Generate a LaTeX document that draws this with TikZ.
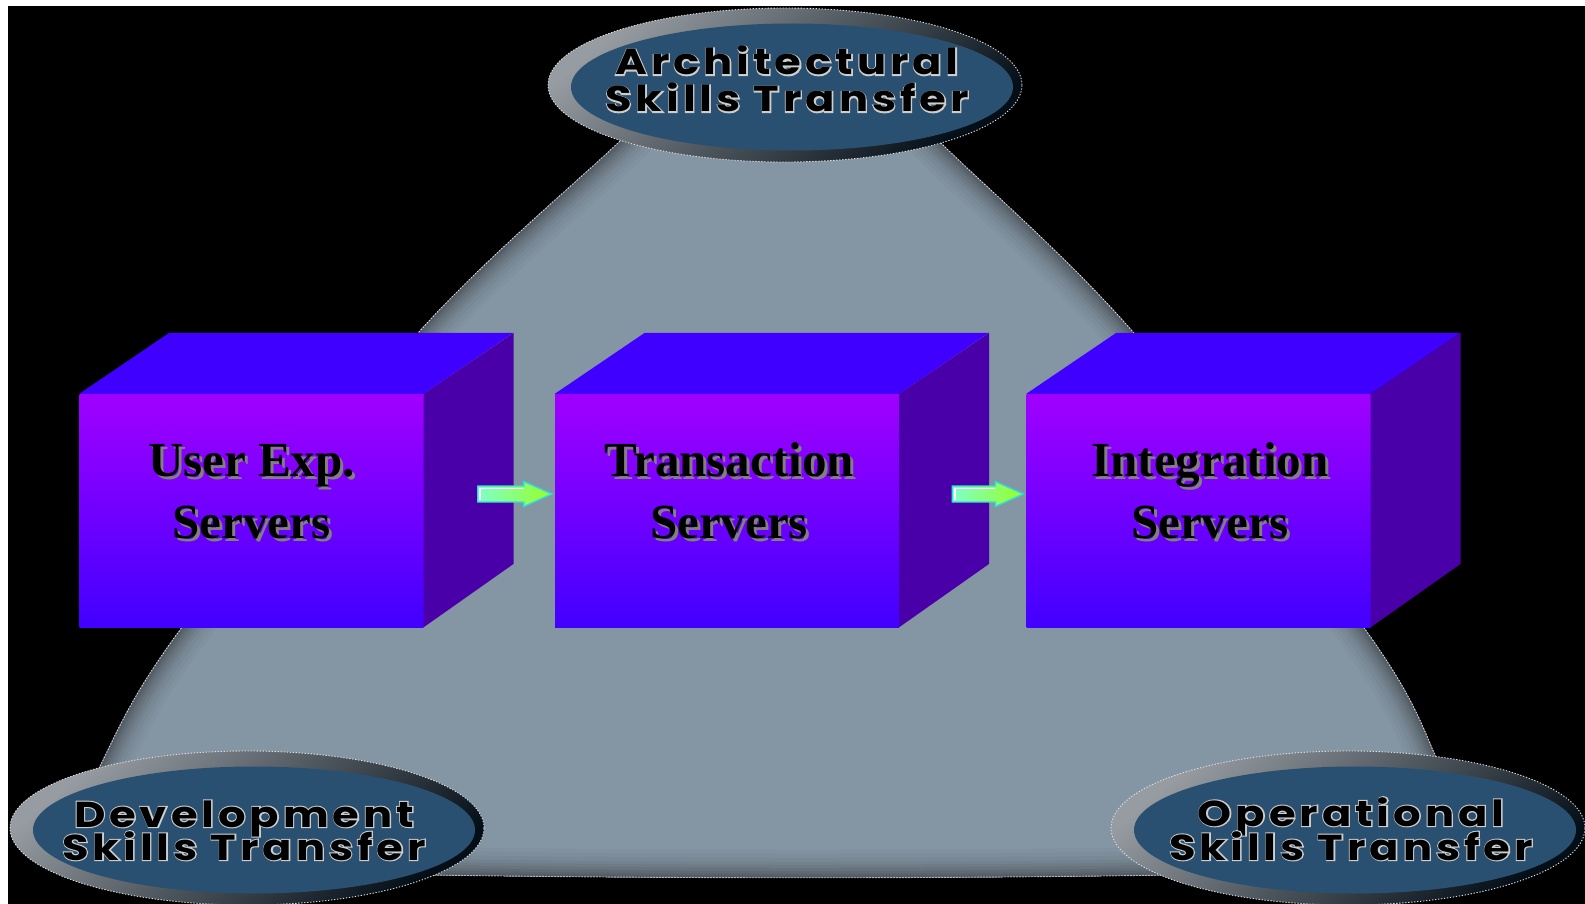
\documentclass[tikz,border=0pt]{standalone}
\usepackage{fontspec}
\usetikzlibrary{calc,shapes.geometric}

\newfontfamily\skillfont{Poppins}[FakeStretch=1.2, LetterSpace=11]
\newfontfamily\skillhalofont{Poppins}[FakeStretch=1.2, LetterSpace=11, BoldFeatures={FakeBold=6}]
\newfontfamily\serverfont{Liberation Serif}

\definecolor{triGrey}{RGB}{132,149,163}
\definecolor{triRim}{RGB}{76,84,91}
\definecolor{ellBlue}{RGB}{41,80,112}
\definecolor{rimLight}{RGB}{150,156,162}
\definecolor{rimDark}{RGB}{4,14,22}
\definecolor{faceTop}{RGB}{160,0,255}
\definecolor{faceBottom}{RGB}{66,0,255}
\definecolor{lidBlue}{RGB}{64,0,255}
\definecolor{sideViolet}{RGB}{74,0,168}
\definecolor{arrowMint}{RGB}{128,255,200}
\definecolor{arrowLime}{RGB}{150,255,40}
\definecolor{arrowEdge}{RGB}{50,220,220}
\definecolor{haloGrey}{RGB}{205,205,205}
\definecolor{shadowGrey}{RGB}{128,128,128}

\tikzset{
  edgedots/.style={draw=white!75!gray, line width=0.9, dash pattern=on 1.3 off 1.7},
  skillrim/.style={ellipse, inner sep=0, minimum width=474, minimum height=154,
    top color=rimLight, bottom color=rimDark, shading angle=40, edgedots},
  skillcore/.style={ellipse, inner sep=0, minimum width=442, minimum height=127, fill=ellBlue},
  skilltext/.style={font=\skillfont\bfseries\fontsize{36}{40}\selectfont, inner sep=0, anchor=base},
  skillhalo/.style={font=\skillhalofont\bfseries\fontsize{36}{40}\selectfont, inner sep=0, anchor=base, text=haloGrey},
  frontface/.style={rectangle, inner sep=0, minimum width=344, minimum height=233,
    top color=faceTop, bottom color=faceBottom},
  lid/.style={fill=lidBlue},
  sideface/.style={fill=sideViolet},
  servertext/.style={font=\serverfont\bfseries\fontsize{49}{58}\selectfont, inner sep=0, anchor=base},
  arrowbody/.style={left color=arrowMint, right color=arrowLime, draw=arrowEdge, line width=1.4, line join=miter},
  arrowshine/.style={draw=white, line width=1.6},
}

% one line of badge lettering: black letters over an emboldened light copy
\newcommand\haloline[3]{%
  \node[skillhalo] (#1halo) at (#2) {#3};
  \node[skilltext] (#1) at (#2) {#3};
}

% bevelled oval badge
\newcommand\skillbadge[2]{%
  \node[skillrim] (#1) at (#2) {};
  \node[skillcore] (#1core) at ($(#1.center)+(7,-2)$) {};
}

% 3-D server block: front face node plus lid and side
\newcommand\serverbox[2]{%
  \node[frontface] (#1) at (#2) {};
  \fill[lid] (#1.north west) -- ++(90,61) -- ++(344,0) -- (#1.north east) -- cycle;
  \fill[sideface] (#1.north east) -- ++(90,61) -- ++(0,-231) -- (#1.south east) -- cycle;
}

% one line of server lettering with a grey drop shadow
\newcommand\serverline[3]{%
  \node[servertext, text=shadowGrey, xshift=3pt, yshift=-3pt] (#1shadow) at (#2) {#3};
  \node[servertext] (#1) at (#2) {#3};
}

% block arrow from tail coordinate to tip coordinate
\newcommand\fatarrow[2]{%
  \draw[arrowbody] ($(#1)+(0,8)$) -- ($(#2)+(-28,8)$) -- ($(#2)+(-28,12.5)$) -- (#2)
    -- ($(#2)+(-28,-12.5)$) -- ($(#2)+(-28,-8)$) -- ($(#1)+(0,-8)$) -- cycle;
  \draw[arrowshine] ($(#1)+(2.5,-6)$) -- ($(#1)+(2.5,5.5)$) -- ($(#2)+(-28,5.5)$);
}

\def\trianglepath{(900,-100) -- (662,-100)
  -- plot[smooth, tension=0.55] coordinates {(662,-100) (618,-143) (418,-333) (180,-630) (103,-760) (80,-830)}
  -- (120,-868) .. controls (500,-880) and (1050,-882) .. (1460,-868)
  -- plot[smooth, tension=0.55] coordinates {(1455,-830) (1435,-755) (1367,-632) (1133,-332) (943,-145) (900,-100)}
  -- cycle}

\begin{document}
\begin{tikzpicture}[x=1pt,y=1pt]
  \useasboundingbox (0,0) rectangle (1585,-904);
  \fill[white] (0,0) rectangle (1585,-904);
  \fill[black] (8,-6) rectangle (1585,-904);

  \begin{scope}
    \clip (8,-6) rectangle (1585,-904);

    % grey triangle with a soft dark rim
    \fill[triGrey] \trianglepath;
    \begin{scope}
      \clip \trianglepath;
      \foreach \w/\p in {56/6, 48/12, 40/20, 32/30, 26/40, 20/52, 14/64, 9/76, 5/86}
        \draw[triRim!\p!triGrey, line width=\w] \trianglepath;
    \end{scope}
    \draw[edgedots] \trianglepath;

    % skills badges
    \skillbadge{arch}{785,-85}
    \skillbadge{dev}{247,-828}
    \skillbadge{ops}{1348,-828}

    \haloline{archA}{787,-75}{Architectural}
    \haloline{archB}{787,-112}{Skills Transfer}
    \haloline{devA}{244,-827}{Development}
    \haloline{devB}{244,-860}{Skills Transfer}
    \haloline{opsA}{1351,-826}{Operational}
    \haloline{opsB}{1351,-860}{Skills Transfer}

    % server blocks
    \serverbox{ux}{251.5,-510.5}
    \serverbox{tx}{727,-510.5}
    \serverbox{ix}{1198.5,-510.5}

    \serverline{uxA}{251.5,-476}{User Exp.}
    \serverline{uxB}{251.5,-538}{Servers}
    \serverline{txA}{729,-476}{Transaction}
    \serverline{txB}{729,-538}{Servers}
    \serverline{ixA}{1210,-476}{Integration}
    \serverline{ixB}{1210,-538}{Servers}

    % flow arrows between blocks
    \coordinate (a1tail) at ($(ux.east)+(54,16.5)$);
    \coordinate (a1tip) at ($(tx.west)+(-3,16.5)$);
    \coordinate (a2tail) at ($(tx.east)+(53,16.5)$);
    \coordinate (a2tip) at ($(ix.west)+(-3,16.5)$);
    \fatarrow{a1tail}{a1tip}
    \fatarrow{a2tail}{a2tip}
  \end{scope}
\end{tikzpicture}
\end{document}
